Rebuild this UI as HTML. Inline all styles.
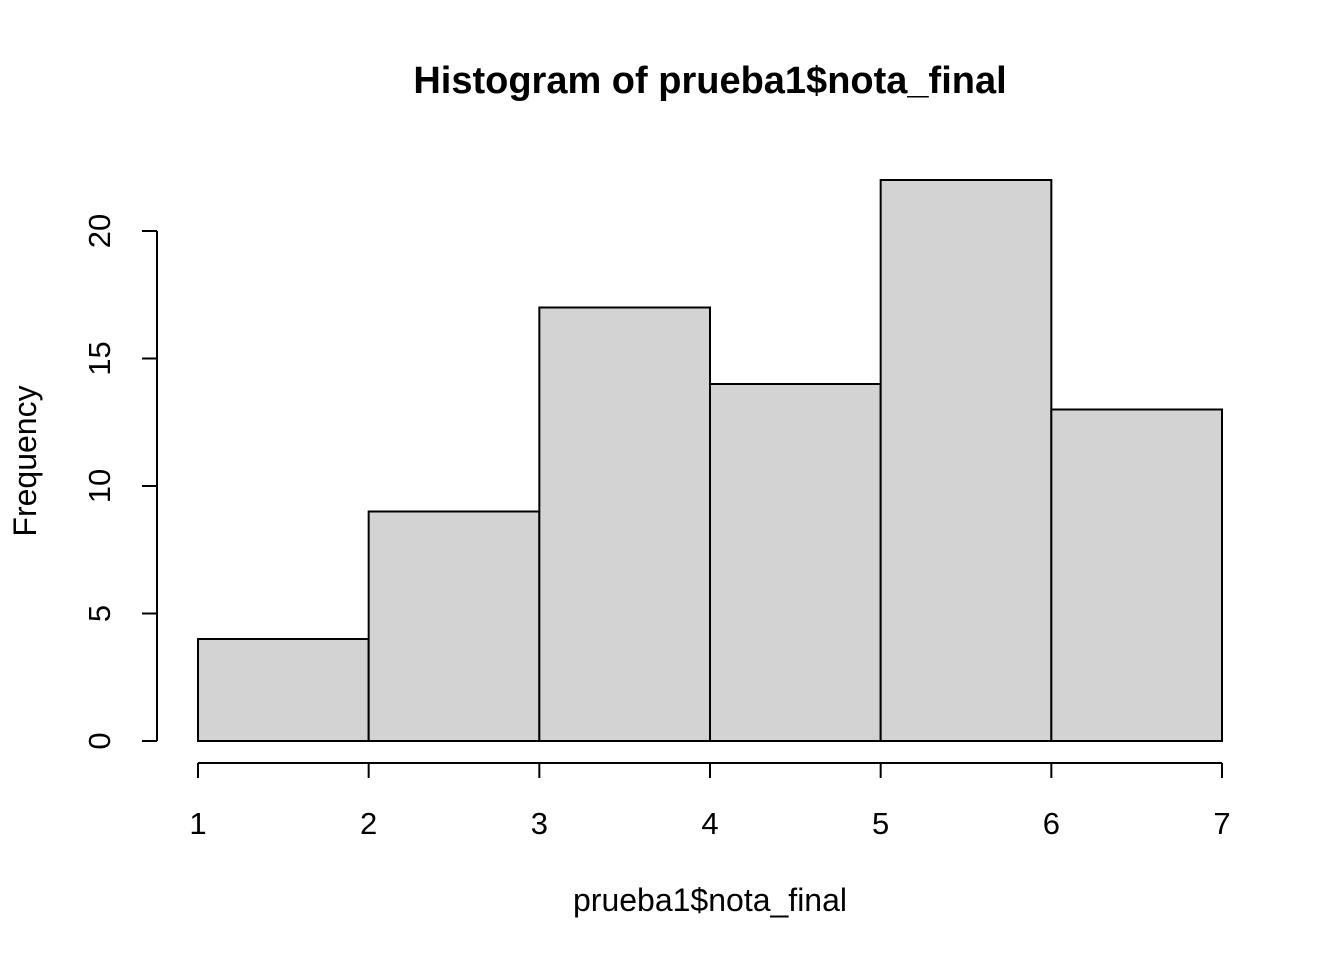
<!DOCTYPE html>
<html><head><meta charset="utf-8"><style>
html,body{margin:0;padding:0;background:#fff;}
svg{display:block;font-family:"Liberation Sans",Arial,sans-serif;}
</style></head><body>
<svg id="chart" width="1344" height="960" viewBox="0 0 1344 960">
<text x="710" y="93" text-anchor="middle" font-size="38" font-weight="bold">Histogram of prueba1$nota_final</text>
<text x="710" y="911" text-anchor="middle" font-size="32">prueba1$nota_final</text>
<text transform="translate(36,461) rotate(-90)" text-anchor="middle" font-size="32">Frequency</text>
<g id="bars"></g>
<g id="xaxis"></g>
<g id="yaxis"></g>
</svg>
<script>
const binEdges = [1, 2, 3, 4, 5, 6, 7];
const counts = [4, 9, 17, 14, 22, 13];
const xTicks = [1, 2, 3, 4, 5, 6, 7];
const yTicks = [0, 5, 10, 15, 20];

const NS = "http://www.w3.org/2000/svg";
const xs = v => 198 + (v - 1) * (1222 - 198) / 6;
const ys = v => 741 - v * (741 - 231) / 20;
function mk(tag, attrs, parent) {
  const e = document.createElementNS(NS, tag);
  for (const k in attrs) e.setAttribute(k, attrs[k]);
  parent.appendChild(e);
  return e;
}
const bars = document.getElementById('bars');
counts.forEach((c, i) => {
  const r = mk('rect', {x: xs(binEdges[i]), y: ys(c), width: xs(binEdges[i+1]) - xs(binEdges[i]), height: ys(0) - ys(c), fill: '#d3d3d3', stroke: '#000', 'stroke-width': 2}, bars);
  
  
});
const xa = document.getElementById('xaxis');
mk('line', {x1: xs(xTicks[0]), x2: xs(xTicks[xTicks.length-1]), y1: 763, y2: 763, stroke: '#000', 'stroke-width': 2}, xa);
xTicks.forEach(t => {
  mk('line', {x1: xs(t), x2: xs(t), y1: 763, y2: 778, stroke: '#000', 'stroke-width': 2}, xa);
  const tx = mk('text', {x: xs(t), y: 834, 'text-anchor': 'middle', 'font-size': 31}, xa);
  tx.textContent = t;
  
  
});
const ya = document.getElementById('yaxis');
mk('line', {x1: 157, x2: 157, y1: ys(yTicks[0]), y2: ys(yTicks[yTicks.length-1]), stroke: '#000', 'stroke-width': 2}, ya);
yTicks.forEach(t => {
  mk('line', {x1: 142, x2: 157, y1: ys(t), y2: ys(t), stroke: '#000', 'stroke-width': 2}, ya);
  const tx = mk('text', {transform: 'translate(110,' + ys(t) + ') rotate(-90)', 'text-anchor': 'middle', 'font-size': 31}, ya);
  tx.textContent = t;
  
  
});
</script>
</body></html>
